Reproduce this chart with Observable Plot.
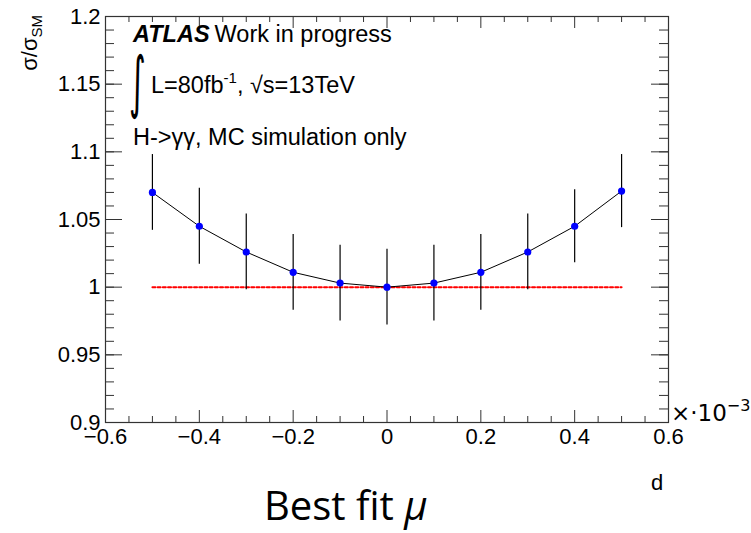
<!DOCTYPE html>
<html>
<head>
<meta charset="utf-8">
<script src="https://cdn.jsdelivr.net/npm/d3@7"></script>
<script src="https://cdn.jsdelivr.net/npm/@observablehq/plot@0.6"></script>
<style>
  html, body { margin: 0; padding: 0; background: #fff; }
  #chart svg { display: block; overflow: visible; }
</style>
</head>
<body>
<div id="chart"></div>
<script>
// ---- data (x in units of 10^-3) ----
const dValues   = [-0.5, -0.4, -0.3, -0.2, -0.1, 0.0, 0.1, 0.2, 0.3, 0.4, 0.5];
const ratio     = [1.070, 1.045, 1.026, 1.011, 1.003, 1.000, 1.003, 1.011, 1.026, 1.045, 1.071];
const ratioErr  = [0.028, 0.028, 0.028, 0.028, 0.028, 0.028, 0.028, 0.028, 0.028, 0.027, 0.027];
const smRatio   = 1.0;

// ---- ticks ----
const xMajorTicks = [-0.6, -0.4, -0.2, 0, 0.2, 0.4, 0.6];
const xMinorTicks = [-0.55, -0.5, -0.45, -0.35, -0.3, -0.25, -0.15, -0.1, -0.05,
                     0.05, 0.1, 0.15, 0.25, 0.3, 0.35, 0.45, 0.5, 0.55];
const yMajorTicks = [0.9, 0.95, 1.0, 1.05, 1.1, 1.15, 1.2];
const yMinorTicks = d3.range(0, 31).map(i => +(0.9 + i * 0.01).toFixed(2));

const points = dValues.map((d, i) => ({d, r: ratio[i], e: ratioErr[i]}));
const smLine = [dValues[0], dValues[dValues.length - 1]].map(d => ({d, r: smRatio}));

const W = 751, H = 533;
const mL = 105, mR = 83, mT = 16, mB = 111;
const fw = W - mL - mR, fh = H - mT - mB;
const fmt = v => String(v).replace("-", "\u2212");
const font = "Liberation Sans, Arial, Helvetica, sans-serif";
const axisColor = "#333";

const svg = Plot.plot({
  width: W, height: H,
  marginLeft: mL, marginRight: mR, marginTop: mT, marginBottom: mB,
  style: {fontFamily: font, background: "#fff"},
  x: {domain: [-0.6, 0.6]},
  y: {domain: [0.9, 1.2]},
  marks: [
    // inward ticks: left / right
    Plot.tickY(yMinorTicks, {y: d => d, insetRight: fw - 9, stroke: axisColor}),
    Plot.tickY(yMajorTicks, {y: d => d, insetRight: fw - 17, stroke: axisColor}),
    Plot.tickY(yMinorTicks, {y: d => d, insetLeft: fw - 9, stroke: axisColor}),
    Plot.tickY(yMajorTicks, {y: d => d, insetLeft: fw - 17, stroke: axisColor}),
    // inward ticks: bottom / top
    Plot.tickX(xMinorTicks, {x: d => d, insetTop: fh - 6, stroke: axisColor}),
    Plot.tickX(xMajorTicks, {x: d => d, insetTop: fh - 12, stroke: axisColor}),
    Plot.tickX(xMinorTicks, {x: d => d, insetBottom: fh - 6, stroke: axisColor}),
    Plot.tickX(xMajorTicks, {x: d => d, insetBottom: fh - 12, stroke: axisColor}),
    Plot.frame({stroke: axisColor, strokeWidth: 1.2}),
    Plot.axisX(xMajorTicks, {tickSize: 0, tickPadding: 6, fontSize: 22, tickFormat: fmt, label: null, fill: "#000"}),
    Plot.axisY(yMajorTicks, {tickSize: 0, tickPadding: 5, fontSize: 22, tickFormat: fmt, label: null, fill: "#000"}),
    // SM reference
    Plot.line(smLine, {x: "d", y: "r", stroke: "#ff0000", strokeWidth: 2, strokeDasharray: "3,2.2"}),
    // curve, error bars, points
    Plot.line(points, {x: "d", y: "r", stroke: "#000", strokeWidth: 1}),
    Plot.ruleX(points, {x: "d", y1: d => d.r - d.e, y2: d => d.r + d.e, stroke: "#000", strokeWidth: 1.2}),
    Plot.dot(points, {x: "d", y: "r", r: 3.6, fill: "#0000ff", stroke: "none"})
  ]
});

const s = d3.select(svg);
const txt = (x, y, size, family = font) => s.append("text").attr("x", x).attr("y", y)
  .attr("text-anchor", "start").attr("font-family", family).attr("font-size", size).attr("fill", "#000");

// ATLAS label
const t1 = txt(133, 42, 23.5);
t1.append("tspan").attr("font-weight", "bold").attr("font-style", "italic").text("ATLAS");
t1.append("tspan").attr("dx", 5).text("Work in progress");

// integral (tall, narrow)
s.append("text").attr("transform", "translate(129,105) scale(0.62,1.3)").attr("text-anchor", "start")
  .attr("font-family", "DejaVu Sans, sans-serif").attr("font-size", 52).attr("fill", "#000").text("\u222B");
const t2 = txt(151, 93, 23.5);
t2.append("tspan").text("L=80fb");
t2.append("tspan").attr("font-size", 15).attr("dy", -10).text("-1");
t2.append("tspan").attr("dy", 10).text(", \u221As=13TeV");

txt(133, 145, 23.5).text("H->\u03B3\u03B3, MC simulation only");

// y label (rotated)
const yl = s.append("text").attr("transform", "translate(37,15) rotate(-90)").attr("text-anchor", "end")
  .attr("font-family", font).attr("font-size", 22).attr("fill", "#000");
yl.append("tspan").text("\u03C3/\u03C3");
yl.append("tspan").attr("font-size", 15).attr("dy", 5).text("SM");

// x exponent
const ex = txt(671, 421, 23, "DejaVu Sans, sans-serif");
ex.append("tspan").text("\u00D7\u00B710");
ex.append("tspan").attr("font-size", 16).attr("dy", -10).text("\u22123");

// x label
s.append("text").attr("x", 657).attr("y", 490).attr("text-anchor", "middle").attr("font-family", font)
  .attr("font-size", 22).attr("fill", "#000").text("d");

// caption
const cap = txt(264, 520, 40, "Open Sans, Noto Sans, sans-serif");
cap.append("tspan").text("Best fit ");
cap.append("tspan").attr("font-style", "italic").text("\u03BC");

document.getElementById("chart").appendChild(svg);
</script>
</body>
</html>
